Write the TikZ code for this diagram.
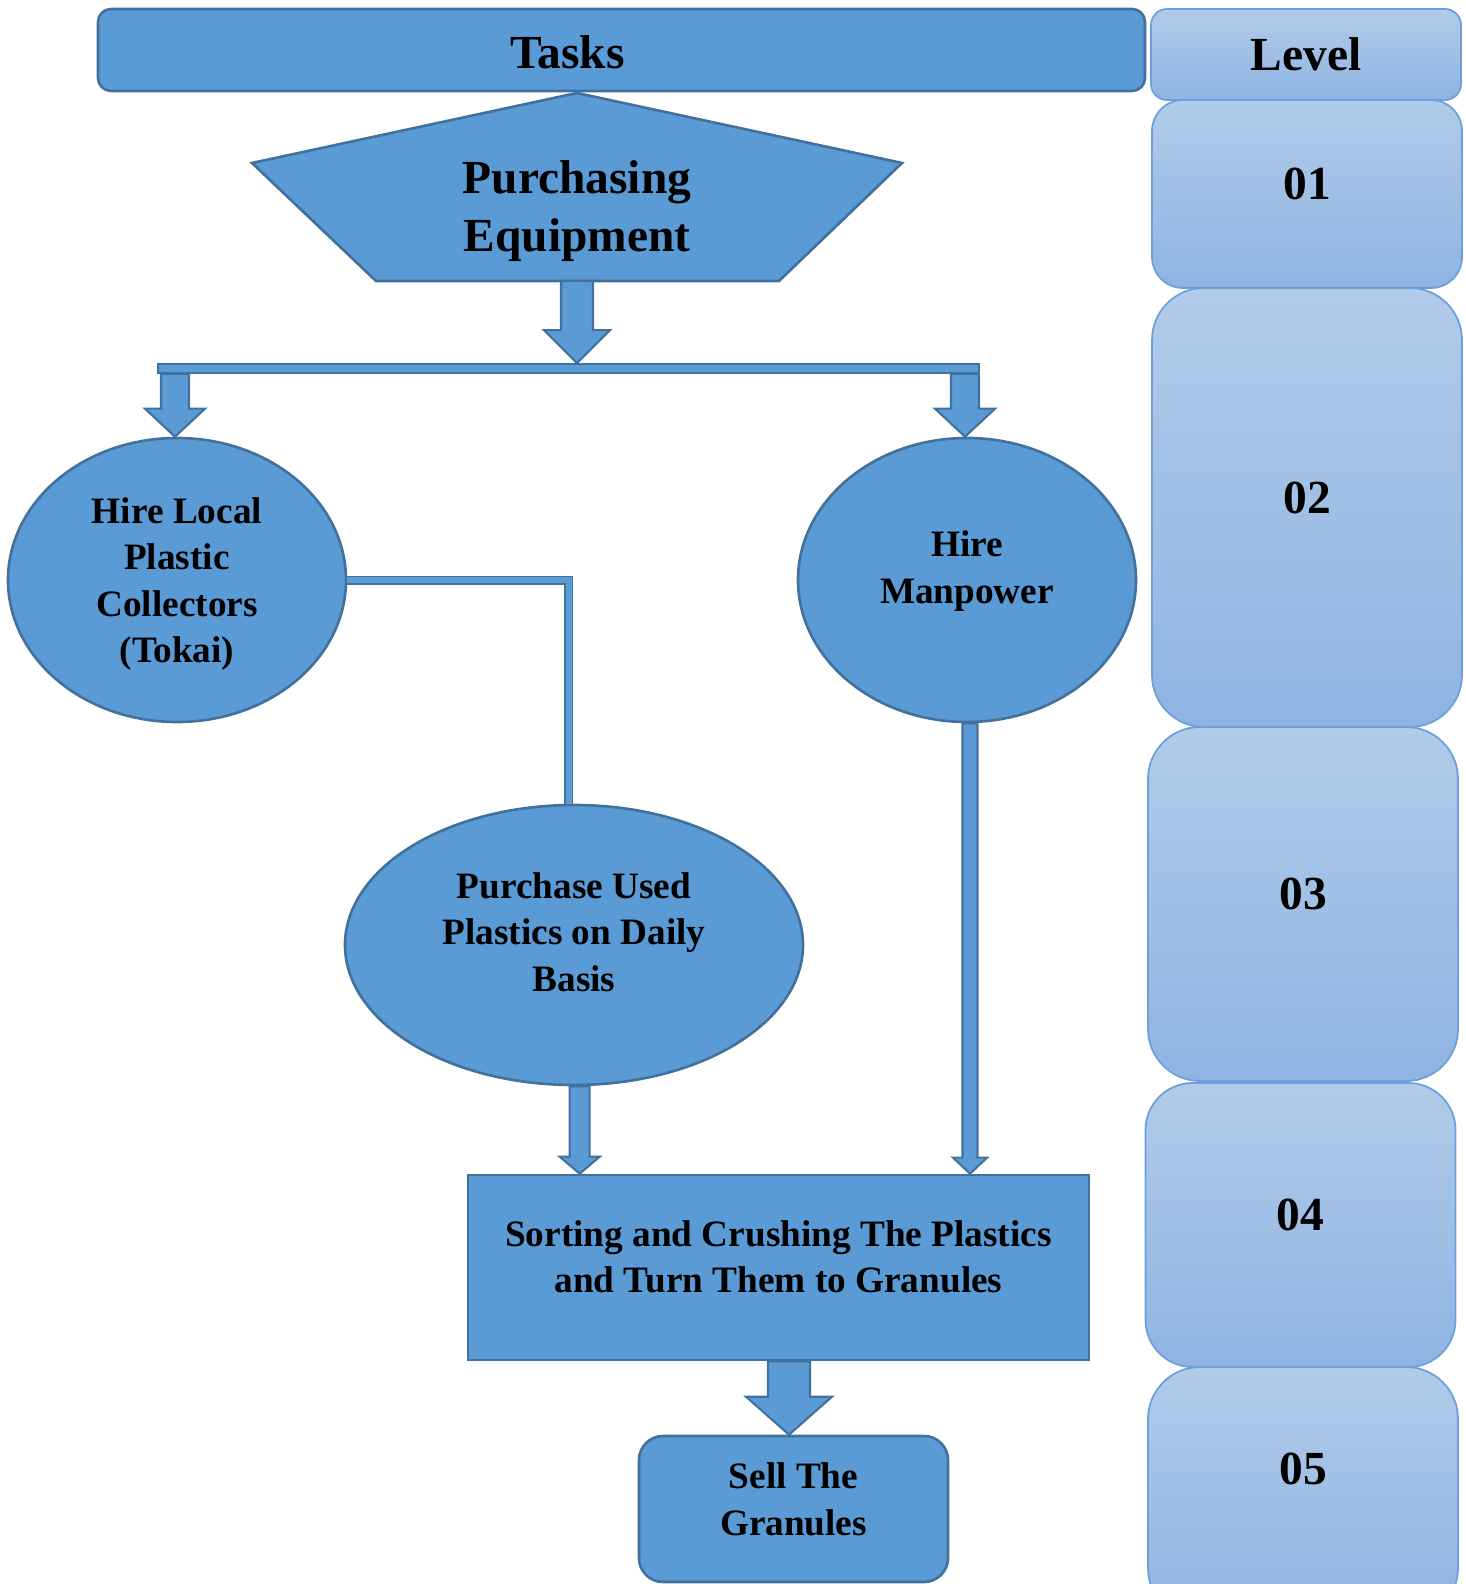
\documentclass[tikz,border=0pt]{standalone}
\usepackage{fontspec}
\setmainfont{Liberation Serif}
\usetikzlibrary{shapes.geometric,calc}

\definecolor{taskblue}{HTML}{5B9BD5}
\definecolor{edgeblue}{HTML}{41719C}
\definecolor{lvtop}{HTML}{B1CBE9}
\definecolor{lvbot}{HTML}{8FB4E2}
\definecolor{lvedge}{HTML}{6BA0DA}

\newcommand{\bodyfont}{\fontsize{10.6}{13.2}\selectfont\bfseries}
\newcommand{\headfont}{\fontsize{13.5}{16.6}\selectfont\bfseries}

% block arrow: from #1 (start height) down to #2 (tip), shaft/head half widths, head length
\newcommand{\blockarrow}[5]{%
  \draw[blk] let \p1=(#1), \p2=(#2) in
    (\x2-#3,\y1) -- (\x2-#3,\y2+#5) -- (\x2-#4,\y2+#5) -- (\x2,\y2)
    -- (\x2+#4,\y2+#5) -- (\x2+#3,\y2+#5) -- (\x2+#3,\y1) -- cycle;}

\begin{document}
\begin{tikzpicture}[x=0.1mm, y=-0.1mm,
  shp/.style={draw=edgeblue, fill=taskblue, line width=0.75pt, align=center, font=\bodyfont, inner sep=0pt},
  oval/.style={shp, ellipse, minimum width=33.8mm, minimum height=28.4mm},
  lvbox/.style={draw=lvedge, line width=0.5pt, top color=lvtop, bottom color=lvbot, rounded corners=#1, minimum width=31mm, font=\headfont, inner sep=0pt},
  raised/.style={text depth=#1},
  blk/.style={draw=edgeblue, fill=taskblue, line width=0.6pt, line join=miter},
  pipe/.style={draw=edgeblue, double=taskblue, double distance=0.6mm, line width=0.15mm}]
\useasboundingbox (0,0) rectangle (1466,1584);
\clip (0,0) rectangle (1466,1584);

% header row
\node[shp, rounded corners=1.3mm, minimum width=104.7mm, minimum height=8.2mm,
  label={[font=\headfont, xshift=-5.4mm, yshift=-0.2mm]center:Tasks}] (tasks) at (621.5,50) {};
\node[lvbox=1.6mm, minimum height=9.1mm] (level) at (1306,54.5) {Level};

% levels
\node[lvbox=3.1mm, minimum height=18.8mm, raised=2mm] (lv1) at (1307,194) {01};
\node[lvbox=5.2mm, minimum height=43.9mm, raised=2mm] (lv2) at (1307,507.5) {02};
\node[lvbox=5.2mm, minimum height=35.4mm, raised=2mm] (lv3) at (1303,904) {03};
\node[lvbox=4.7mm, minimum height=28.4mm, raised=2mm] (lv4) at (1300.5,1225) {04};
\node[lvbox=5.2mm, minimum height=25.3mm, raised=4.9mm] (lv5) at (1303,1493.5) {05};

% purchasing equipment
\draw[shp] (577,93) -- (902,163) -- (779,281) -- (376,281) -- (252,163) -- cycle;
\node[font=\headfont, align=center] (equip) at (577,211) {Purchasing\\Equipment};
\coordinate (equipbot) at (577,281);

\node[shp, line width=0.5pt, minimum width=82.1mm, minimum height=0.9mm] (split) at (568.5,368.5) {};

\node[oval, raised=0mm] (collect) at (177,580) {Hire Local\\Plastic\\Collectors\\(Tokai)};
\node[oval, raised=2.6mm] (manpower) at (967,580) {Hire\\Manpower};
\node[oval, minimum width=45.8mm, minimum height=28mm, raised=2.6mm] (purchase) at (574,945)
  {Purchase Used\\Plastics on Daily\\Basis};
\node[shp, minimum width=62.1mm, minimum height=18.5mm, raised=2.2mm] (sorting) at (778.5,1267.5)
  {Sorting and Crushing The Plastics\\and Turn Them to Granules};
\node[shp, rounded corners=2.4mm, minimum width=30.9mm, minimum height=14.6mm, raised=2mm] (sell) at (793.5,1509)
  {Sell The\\Granules};
\coordinate (sortin) at ([xshift=11.3mm]sorting.north west);

% connectors
\blockarrow{equipbot}{equipbot |- split.north}{1.6mm}{3.3mm}{3.3mm}
\blockarrow{split.south}{[xshift=-0.2mm]collect.north}{1.4mm}{3.0mm}{2.8mm}
\blockarrow{split.south}{[xshift=-0.2mm]manpower.north}{1.4mm}{3.0mm}{2.8mm}
\draw[pipe] (collect.east) -| ([xshift=-0.55mm]purchase.north);
\blockarrow{purchase.south}{sortin}{1.0mm}{2.0mm}{1.7mm}
\blockarrow{manpower.south}{[xshift=0.3mm]manpower.south |- sorting.north}{0.75mm}{1.7mm}{1.6mm}
\blockarrow{sorting.south}{[xshift=-0.45mm]sell.north}{2.1mm}{4.3mm}{3.8mm}
\end{tikzpicture}
\end{document}
